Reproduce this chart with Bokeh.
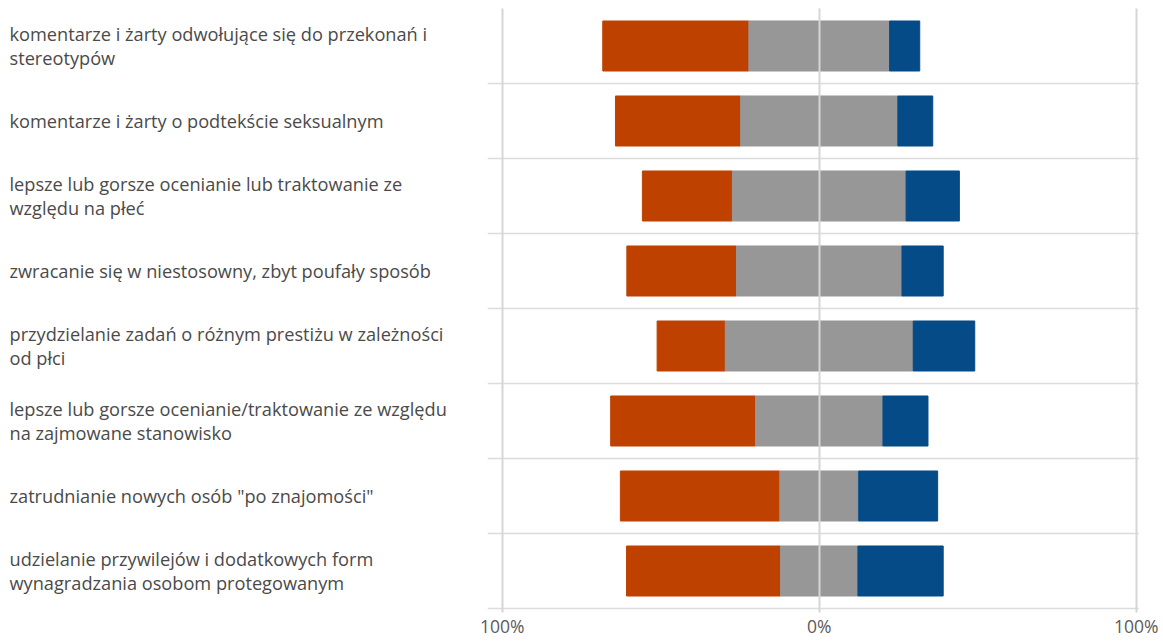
from bokeh.plotting import figure
from bokeh.models import Range1d, FixedTicker, ColumnDataSource
from bokeh.core.properties import value
from bokeh.embed import file_html
from bokeh.resources import INLINE

categories = [
    "komentarze i żarty odwołujące się do przekonań i\nstereotypów",
    "komentarze i żarty o podtekście seksualnym",
    "lepsze lub gorsze ocenianie lub traktowanie ze\nwzględu na płeć",
    "zwracanie się w niestosowny, zbyt poufały sposób",
    "przydzielanie zadań o różnym prestiżu w zależności\nod płci",
    "lepsze lub gorsze ocenianie/traktowanie ze względu\nna zajmowane stanowisko",
    'zatrudnianie nowych osób "po znajomości"',
    "udzielanie przywilejów i dodatkowych form\nwynagradzania osobom protegowanym",
]
negative = [46.1, 39.5, 28.4, 34.6, 21.5, 45.7, 50.3, 48.6]
neutral = [44.4, 49.6, 54.8, 52.2, 59.3, 40.2, 24.9, 24.4]
positive = [9.5, 11.0, 16.8, 13.0, 19.4, 14.2, 24.9, 26.9]
tick_values = [-100, 0, 100]
tick_labels = ["100%", "0%", "100%"]

ORANGE = "#BF4100"
GRAY = "#979797"
BLUE = "#044B88"

n = len(categories)
ys = [n - i - 0.5 for i in range(n)]
neu_l = [-g / 2 for g in neutral]
neu_r = [g / 2 for g in neutral]
neg_l = [l - o for l, o in zip(neu_l, negative)]
pos_r = [r + b for r, b in zip(neu_r, positive)]

src = ColumnDataSource(dict(y=ys, cat=categories, neg_l=neg_l, neu_l=neu_l,
                            neu_r=neu_r, pos_r=pos_r))

X0, X1 = -258.3, 108.6
p = figure(width=1163, height=643, output_backend="svg", toolbar_location=None,
           x_range=Range1d(X0, X1), y_range=Range1d(-4 / 75, n),
           y_axis_location=None, min_border_left=0, min_border_right=0,
           min_border_top=8, min_border_bottom=31)
p.outline_line_color = None
p.background_fill_color = "white"

# row separators (left end extends a little past the -100% line)
bounds = list(range(n))
p.segment(x0=[-104.6] * n, x1=[100.8] * n, y0=bounds, y1=bounds,
          line_color="#dcdcdc", line_width=1.5, level="underlay")

H = 0.667
p.hbar(y="y", left="neg_l", right="neu_l", height=H, color=ORANGE, source=src)
p.hbar(y="y", left="neu_l", right="neu_r", height=H, color=GRAY, source=src)
p.hbar(y="y", left="neu_r", right="pos_r", height=H, color=BLUE, source=src)

p.text(x=X0, y="y", text="cat", source=src, x_offset=9,
       text_font=value("Open Sans"), text_font_size="18.2px", text_color="#4a4a4a",
       text_baseline="middle", text_align="left", text_line_height=1.0)

# x axis
ax = p.xaxis[0]
ax.ticker = FixedTicker(ticks=tick_values)
ax.major_label_overrides = {v: l for v, l in zip(tick_values, tick_labels)}
ax.axis_line_color = None
ax.major_tick_line_color = None
ax.major_tick_in = 0
ax.major_tick_out = 0
ax.minor_tick_line_color = None
ax.major_label_standoff = 1
ax.major_label_text_font = "Open Sans"
ax.major_label_text_font_size = "17.5px"
ax.major_label_text_color = "#5a5a5a"

# grids
p.xgrid.ticker = FixedTicker(ticks=tick_values)
p.xgrid.grid_line_color = "#d6d6d6"
p.xgrid.grid_line_width = 2
p.xgrid.level = "annotation"
p.ygrid.visible = False

open("out.html", "w").write(file_html(p, INLINE))
